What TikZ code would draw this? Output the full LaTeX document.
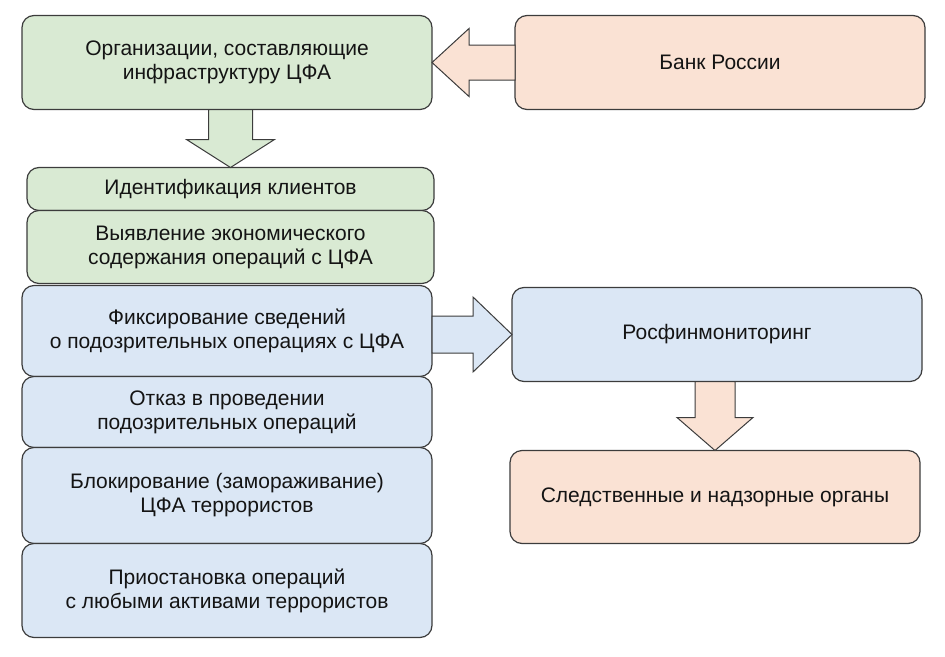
\documentclass[tikz,border=0pt]{standalone}
\usepackage{fontspec}
\setmainfont{Liberation Sans}
\usepackage{tikz}
\usetikzlibrary{positioning, calc}
\definecolor{boxgreen}{RGB}{217,234,211}
\definecolor{boxpink}{RGB}{250,226,212}
\definecolor{boxblue}{RGB}{219,231,245}
\definecolor{boxline}{RGB}{60,60,60}
\definecolor{boxtext}{RGB}{20,20,20}
\tikzset{
  block/.style={rectangle, draw=boxline, rounded corners=12pt,
    line width=1.2pt, minimum width=410pt, align=center, outer sep=0pt,
    text=boxtext, font=\fontsize{21}{24}\selectfont},
  greenblock/.style={block, fill=boxgreen},
  pinkblock/.style={block, fill=boxpink},
  blueblock/.style={block, fill=boxblue},
  fatarrow/.style={draw=boxline, line width=1pt, line join=miter}
}
% #1 from, #2 to, #3 shaft half width, #4 head half width, #5 head length, #6 fill
\newcommand{\fatarrow}[6]{%
  \coordinate (fa-h) at ($(#2)!#5!(#1)$);
  \draw[fatarrow, fill=#6] ($(#1)!#3!90:(#2)$) -- ($(fa-h)!#3!90:(#2)$)
    -- ($(fa-h)!#4!90:(#2)$) -- (#2) -- ($(fa-h)!#4!-90:(#2)$)
    -- ($(fa-h)!#3!-90:(#2)$) -- ($(#1)!#3!-90:(#2)$) -- cycle;
}

\begin{document}
\begin{tikzpicture}[x=1pt, y=-1pt]
  \useasboundingbox (0,0) rectangle (945,656);

  % Top row
  \node[greenblock, minimum height=94pt] (org) at (227,62.5)
    {Организации, составляющие\\инфраструктуру ЦФА};
  \node[pinkblock, minimum height=94pt, right=83pt of org] (bank) {Банк России};

  % Left column
  \node[greenblock, minimum width=407pt, minimum height=43pt, below=58pt of org, xshift=3.5pt] (ident)
    {Идентификация клиентов};
  \node[greenblock, minimum width=407pt, minimum height=73pt, below=0pt of ident] (vyyav)
    {Выявление экономического\\содержания операций с ЦФА};
  \node[blueblock, minimum height=91pt, below=2pt of vyyav, xshift=-3.5pt] (fix)
    {Фиксирование сведений\\о подозрительных операциях с ЦФА};
  \node[blueblock, minimum height=71pt, below=0pt of fix] (otkaz)
    {Отказ в проведении\\подозрительных операций};
  \node[blueblock, minimum height=96pt, below=0pt of otkaz] (blok)
    {Блокирование (замораживание)\\ЦФА террористов};
  \node[blueblock, minimum height=94pt, below=0pt of blok] (prio)
    {Приостановка операций\\с любыми активами террористов};

  % Right column
  \node[blueblock, minimum height=94pt, right=80pt of fix, yshift=-3.5pt] (rosfin) {Росфинмониторинг};
  \node[pinkblock, minimum height=93pt, below=69pt of rosfin, xshift=-2pt] (sled)
    {Следственные и надзорные органы};

  % Block arrows
  \fatarrow{bank.west}{org.east}{17.5pt}{34pt}{37pt}{boxpink}
  \fatarrow{ident.north |- org.south}{ident.north}{22pt}{44pt}{28pt}{boxgreen}
  \fatarrow{fix.east |- rosfin.west}{rosfin.west}{18.5pt}{37.5pt}{39pt}{boxblue}
  \fatarrow{sled.north |- rosfin.south}{sled.north}{20pt}{38pt}{33pt}{boxpink}
\end{tikzpicture}
\end{document}
